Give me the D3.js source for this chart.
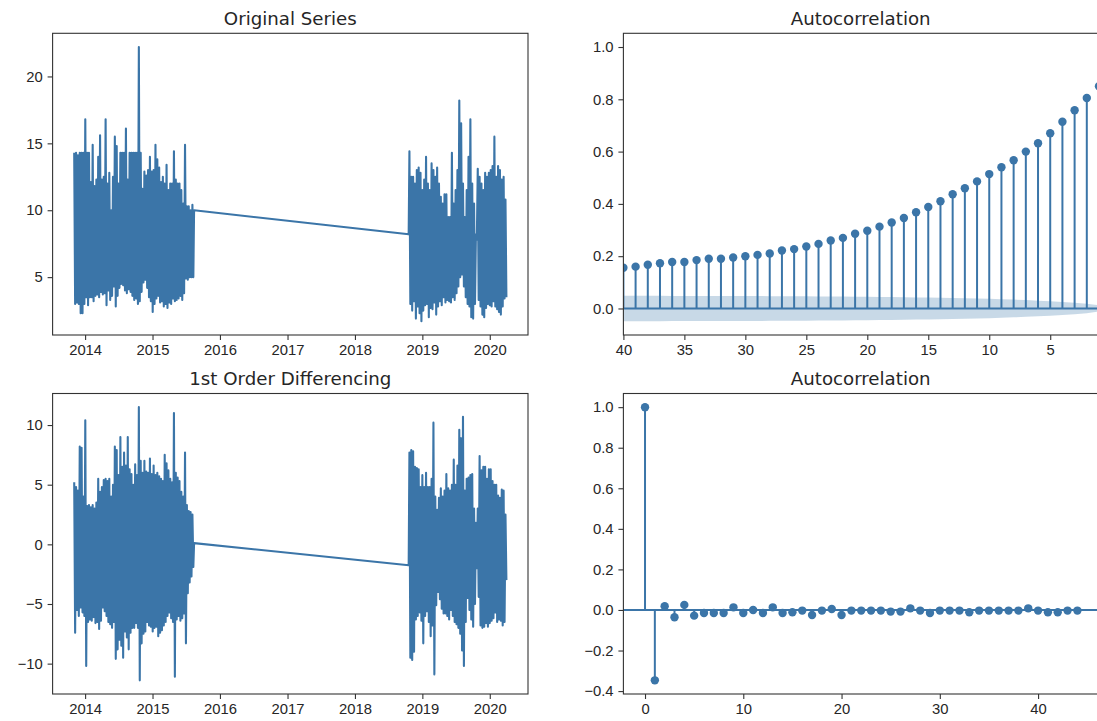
<!doctype html>
<html>
<head>
<meta charset="utf-8">
<title>Original Series / ACF</title>
<script src="https://cdn.jsdelivr.net/npm/d3@7"></script>
<style>
  body { margin: 0; background: #ffffff; }
  svg { display: block; font-family: "DejaVu Sans", sans-serif; }
  .tick text { fill: #262626; font-size: 14.8px; }
  .tick line { stroke: #333; stroke-width: 1.1; }
  .title { fill: #262626; font-size: 18.2px; text-anchor: middle; }
</style>
</head>
<body>
<svg id="fig" width="1097" height="721"></svg>
<script>
// series: one high and one low value per 10 day step
var block1Start = "2013-11-03";
var block2Start = "2018-10-23";
var stepDays = 10;
var joinDates = ["2015-08-14", "2018-10-19"];

var origHi1 = [14.3, 14.3, 14.1, 14.3, 14.3, 14.3, 16.8, 14.3, 14.3, 12.1,
  14.9, 11.8, 12.3, 14.0, 15.6, 12.3, 12.5, 16.8, 12.0, 12.8,
  10.0, 12.5, 15.5, 14.8, 12.0, 14.3, 14.3, 14.3, 16.1, 12.3,
  14.3, 14.3, 14.3, 14.3, 14.3, 22.2, 14.3, 11.6, 12.9, 12.6,
  13.0, 14.0, 12.9, 13.0, 14.9, 13.8, 13.2, 12.1, 12.5, 12.0,
  13.4, 11.5, 12.0, 12.0, 14.4, 12.3, 12.0, 12.0, 11.5, 10.5,
  14.9, 10.3, 10.3, 10.0, 10.4];
var origLo1 = [3.0, 3.1, 3.0, 2.3, 2.3, 3.0, 3.5, 2.9, 3.5, 3.5,
  3.2, 3.6, 3.7, 3.5, 3.9, 3.7, 3.8, 2.9, 4.0, 3.3,
  3.6, 4.3, 2.8, 3.6, 4.2, 4.5, 4.4, 4.0, 3.8, 4.1,
  3.9, 3.6, 3.3, 3.4, 3.0, 3.2, 3.9, 4.6, 4.8, 4.2,
  3.5, 3.2, 2.4, 3.0, 3.4, 3.6, 3.1, 3.2, 2.8, 3.0,
  2.7, 3.1, 3.0, 3.4, 3.2, 3.3, 3.4, 3.6, 3.3, 3.8,
  4.9, 4.8, 5.0, 5.0, 5.0];
var origHi2 = [14.4, 12.5, 12.5, 12.0, 13.0, 13.2, 12.8, 11.5, 12.3, 14.0,
  12.0, 11.5, 13.5, 13.0, 12.5, 13.2, 12.0, 11.0, 10.5, 11.2,
  11.2, 9.5, 9.5, 14.3, 10.5, 11.5, 13.0, 18.2, 16.5, 12.0,
  9.5, 11.5, 14.0, 16.8, 12.0, 10.5, 8.2, 13.1, 12.5, 12.0,
  11.5, 12.8, 12.5, 12.8, 13.0, 13.3, 15.5, 12.5, 13.3, 13.0,
  12.3, 12.5, 10.8];
var origLo2 = [3.0, 2.5, 3.2, 1.9, 2.8, 2.3, 1.7, 2.5, 2.9, 3.0,
  2.0, 2.7, 2.6, 3.1, 2.2, 2.8, 3.2, 2.9, 3.5, 3.1,
  3.3, 3.2, 3.1, 3.5, 3.3, 3.8, 4.3, 5.0, 5.2, 4.3,
  3.5, 3.0, 2.8, 2.0, 1.9, 3.0, 7.8, 3.3, 2.8, 2.2,
  2.0, 2.7, 3.0, 2.9, 2.8, 3.2, 2.8, 2.6, 2.4, 2.2,
  2.8, 3.4, 3.5];
var origJoin = [10.0, 8.2];

var diffHi1 = [5.2, 4.8, 4.5, 8.2, 8.1, 4.0, 10.4, 3.2, 3.3, 3.1,
  3.3, 3.0, 3.5, 5.5, 4.4, 4.8, 5.4, 5.5, 5.3, 5.5,
  4.0, 5.0, 8.2, 7.9, 5.8, 9.0, 6.5, 7.7, 6.6, 9.0,
  6.3, 5.9, 5.0, 6.7, 5.8, 11.5, 7.0, 6.0, 7.0, 6.1,
  6.0, 7.2, 5.9, 6.6, 5.8, 6.0, 5.7, 5.5, 5.3, 7.5,
  6.8, 6.2, 5.5, 5.2, 11.0, 6.0, 5.6, 5.3, 4.4, 4.0,
  7.7, 3.3, 2.8, 2.7, 2.5];
var diffLo1 = [-7.4, -5.5, -6.0, -5.3, -5.7, -6.0, -10.2, -6.5, -6.3, -6.4,
  -6.1, -6.6, -6.5, -7.1, -6.4, -5.3, -5.6, -6.0, -6.5, -6.7,
  -7.0, -6.5, -9.6, -8.8, -8.0, -8.5, -9.5, -7.3, -7.8, -8.8,
  -7.4, -7.0, -7.0, -6.6, -7.0, -11.4, -8.3, -7.5, -7.3, -6.5,
  -6.8, -6.9, -7.3, -7.0, -6.9, -7.7, -7.4, -7.2, -6.8, -6.5,
  -6.0, -5.7, -6.2, -6.5, -11.1, -6.3, -6.0, -6.4, -6.2, -5.8,
  -8.3, -4.1, -3.2, -2.7, -1.9];
var diffHi2 = [7.7, 7.9, 7.8, 6.5, 6.4, 6.3, 4.8, 5.8, 4.8, 6.0,
  4.8, 4.8, 5.5, 10.2, 4.0, 2.9, 3.9, 4.7, 4.0, 4.5,
  5.9, 4.7, 4.5, 5.0, 7.1, 5.0, 6.6, 9.6, 8.9, 10.7,
  4.5, 5.5, 5.6, 5.8, 5.9, 3.0, 1.8, 3.0, 7.4, 6.2,
  6.5, 6.5, 5.5, 6.3, 6.3, 5.3, 5.0, 5.0, 4.1, 3.9,
  4.6, 4.5, 2.5];
var diffLo2 = [-9.5, -9.7, -9.0, -6.3, -6.0, -5.7, -6.4, -8.3, -6.0, -5.6,
  -6.5, -7.7, -6.8, -10.9, -5.1, -4.0, -4.6, -5.4, -5.8, -5.8,
  -6.0, -6.3, -5.5, -6.0, -6.5, -6.7, -7.0, -7.5, -8.9, -10.2,
  -6.5, -4.5, -5.5, -6.3, -6.9, -5.0, -2.0, -4.4, -6.8, -7.0,
  -6.9, -6.6, -6.9, -6.6, -6.4, -6.2, -5.7, -6.5, -6.3, -6.4,
  -6.8, -6.5, -3.0];
var diffJoin = [0.1, -1.75];

// autocorrelation, lag 0 first
var acfOrig = [1.0, 0.85, 0.805, 0.758, 0.714, 0.67, 0.632, 0.6, 0.567, 0.54,
  0.514, 0.486, 0.46, 0.437, 0.41, 0.388, 0.368, 0.346, 0.329, 0.313,
  0.297, 0.286, 0.27, 0.26, 0.247, 0.237, 0.227, 0.222, 0.21, 0.205,
  0.2, 0.195, 0.19, 0.19, 0.185, 0.178, 0.178, 0.173, 0.167, 0.16, 0.156];
var acfOrigBand = [0, 0.012, 0.018, 0.022, 0.025, 0.028, 0.03, 0.032, 0.034, 0.035,
  0.037, 0.038, 0.039, 0.04, 0.041, 0.042, 0.042, 0.043, 0.044, 0.044,
  0.045, 0.045, 0.046, 0.046, 0.046, 0.047, 0.047, 0.047, 0.047, 0.048,
  0.048, 0.048, 0.048, 0.048, 0.048, 0.048, 0.048, 0.049, 0.049, 0.049, 0.049];
var acfDiff = [1.0, -0.347, 0.018, -0.036, 0.025, -0.028, -0.015, -0.015, -0.015, 0.013,
  -0.015, 0.0, -0.015, 0.013, -0.015, -0.011, -0.003, -0.025, -0.003, 0.005,
  -0.025, -0.003, -0.003, -0.003, -0.003, -0.008, -0.008, 0.008, -0.003, -0.015,
  -0.003, -0.003, -0.003, -0.011, -0.003, -0.003, -0.003, -0.003, -0.003, 0.008,
  -0.003, -0.011, -0.011, -0.003, -0.003];
var acfOrigLagLimits = [40, 1];

var titles = ["Original Series", "Autocorrelation", "1st Order Differencing", "Autocorrelation"];

var blue = "#3b75a8";
var svg = d3.select("#fig");
var parseDate = d3.utcParse("%Y-%m-%d");
var tickLen = 5;

var panels = [
  {x0: 52.6, x1: 528, y0: 33.3, y1: 335},
  {x0: 623.4, x1: 1099, y0: 33.3, y1: 335},
  {x0: 52.6, x1: 528, y0: 393.5, y1: 694},
  {x0: 623.4, x1: 1099, y0: 393.5, y1: 694}
];

function pad(ext) {
  var a = +ext[0], b = +ext[1];
  var m = (b - a) * 0.05;
  return [a - m, b + m];
}

function addBlock(pts, start, hi, lo) {
  var t0 = parseDate(start);
  for (var i = 0; i < hi.length; i++) {
    pts.push([d3.utcDay.offset(t0, i * stepDays), hi[i]]);
    pts.push([d3.utcDay.offset(t0, i * stepDays + stepDays / 2), lo[i]]);
  }
}

function buildSeries(hi1, lo1, join, hi2, lo2) {
  var pts = [];
  addBlock(pts, block1Start, hi1, lo1);
  pts.push([parseDate(joinDates[0]), join[0]]);
  pts.push([parseDate(joinDates[1]), join[1]]);
  addBlock(pts, block2Start, hi2, lo2);
  return pts;
}

function makePanel(idx) {
  var p = panels[idx];
  svg.append("clipPath").attr("id", "clip" + idx)
    .append("rect")
    .attr("x", p.x0).attr("y", p.y0)
    .attr("width", p.x1 - p.x0).attr("height", p.y1 - p.y0);
  var g = svg.append("g");
  g.append("text").attr("class", "title")
    .attr("x", (p.x0 + Math.min(p.x1, 1098)) / 2)
    .attr("y", p.y0 - 8.5)
    .text(titles[idx]);
  return g;
}

function drawFrame(g, p, xAxisFn, yAxisFn) {
  g.append("g")
    .attr("transform", "translate(0," + p.y1 + ")")
    .call(xAxisFn)
    .call(function(s) { s.select(".domain").remove(); });
  g.append("g")
    .attr("transform", "translate(" + p.x0 + ",0)")
    .call(yAxisFn)
    .call(function(s) { s.select(".domain").remove(); });
  g.append("rect")
    .attr("x", p.x0).attr("y", p.y0)
    .attr("width", p.x1 - p.x0).attr("height", p.y1 - p.y0)
    .attr("fill", "none").attr("stroke", "#333").attr("stroke-width", 1.1);
}

function seriesPanel(idx, pts, yTicks) {
  var p = panels[idx];
  var g = makePanel(idx);
  var x = d3.scaleUtc()
    .domain(pad(d3.extent(pts, function(d) { return d[0]; })))
    .range([p.x0, p.x1]);
  var y = d3.scaleLinear()
    .domain(pad(d3.extent(pts, function(d) { return d[1]; })))
    .range([p.y1, p.y0]);
  var line = d3.line()
    .x(function(d) { return x(d[0]); })
    .y(function(d) { return y(d[1]); });
  g.append("path")
    .attr("d", line(pts))
    .attr("clip-path", "url(#clip" + idx + ")")
    .attr("fill", "none")
    .attr("stroke", blue)
    .attr("stroke-width", 2.1)
    .attr("stroke-linejoin", "round");
  drawFrame(g, p,
    d3.axisBottom(x).ticks(d3.utcYear.every(1)).tickFormat(d3.utcFormat("%Y"))
      .tickSizeInner(tickLen).tickSizeOuter(0).tickPadding(4.8),
    d3.axisLeft(y).tickValues(yTicks).tickFormat(d3.format("d"))
      .tickSizeInner(tickLen).tickSizeOuter(0).tickPadding(4.8));
}

function acfPanel(idx, values, band, xDomain, xTicks, yTicks) {
  var p = panels[idx];
  var g = makePanel(idx);
  var lags = d3.range(values.length);
  var x = d3.scaleLinear().domain(xDomain).range([p.x0, p.x1]);
  var lows = band ? band.map(function(b) { return -b; }) : [];
  var y = d3.scaleLinear()
    .domain(pad([Math.min(d3.min(values), d3.min(lows.concat([0]))), d3.max(values)]))
    .range([p.y1, p.y0]);
  var inner = g.append("g").attr("clip-path", "url(#clip" + idx + ")");
  inner.selectAll("line.stem").data(lags).enter().append("line")
    .attr("class", "stem")
    .attr("x1", function(d) { return x(d); })
    .attr("x2", function(d) { return x(d); })
    .attr("y1", y(0))
    .attr("y2", function(d) { return y(values[d]); })
    .attr("stroke", blue).attr("stroke-width", 2);
  if (band) {
    var area = d3.area()
      .x(function(d) { return x(d); })
      .y0(function(d) { return y(-band[d]); })
      .y1(function(d) { return y(band[d]); });
    inner.append("path").attr("d", area(lags))
      .attr("fill", blue).attr("fill-opacity", 0.28);
  }
  inner.append("line")
    .attr("x1", p.x0).attr("x2", p.x1)
    .attr("y1", y(0)).attr("y2", y(0))
    .attr("stroke", blue).attr("stroke-width", 2);
  inner.selectAll("circle").data(lags).enter().append("circle")
    .attr("cx", function(d) { return x(d); })
    .attr("cy", function(d) { return y(values[d]); })
    .attr("r", 4.2)
    .attr("fill", blue);
  drawFrame(g, p,
    d3.axisBottom(x).tickValues(xTicks).tickFormat(d3.format("d"))
      .tickSizeInner(tickLen).tickSizeOuter(0).tickPadding(4.8),
    d3.axisLeft(y).tickValues(yTicks).tickFormat(d3.format(".1f"))
      .tickSizeInner(tickLen).tickSizeOuter(0).tickPadding(4.8));
}

var origSeries = buildSeries(origHi1, origLo1, origJoin, origHi2, origLo2);
var diffSeries = buildSeries(diffHi1, diffLo1, diffJoin, diffHi2, diffLo2);

seriesPanel(0, origSeries, [5, 10, 15, 20]);
seriesPanel(2, diffSeries, [-10, -5, 0, 5, 10]);

acfPanel(1, acfOrig, acfOrigBand, acfOrigLagLimits,
  [40, 35, 30, 25, 20, 15, 10, 5],
  [0, 0.2, 0.4, 0.6, 0.8, 1.0]);
acfPanel(3, acfDiff, null, pad([0, acfDiff.length - 1]),
  [0, 10, 20, 30, 40],
  [-0.4, -0.2, 0, 0.2, 0.4, 0.6, 0.8, 1.0]);
</script>
</body>
</html>
